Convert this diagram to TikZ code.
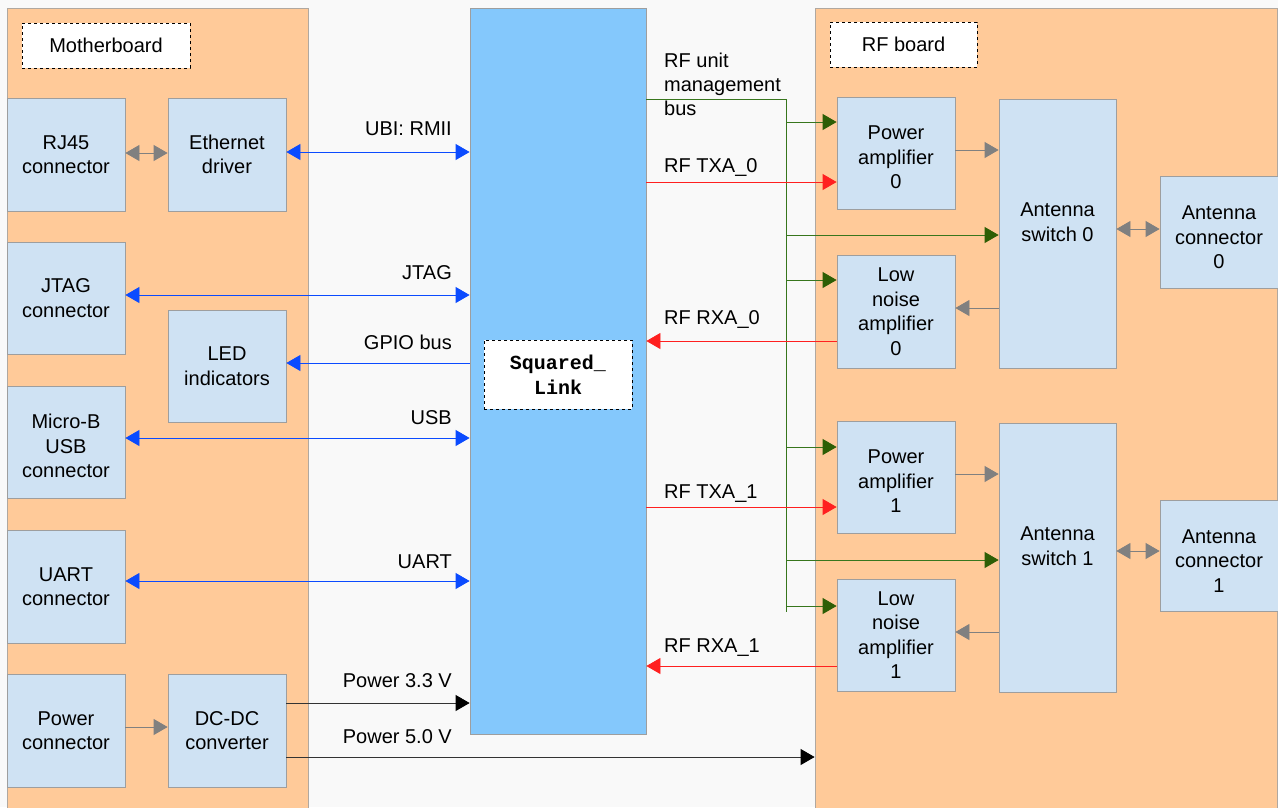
\documentclass[tikz,border=0pt]{standalone}
\usepackage{fontspec}
\setmainfont{Liberation Sans}
\setmonofont{Liberation Mono}
\usetikzlibrary{arrows.meta}
\definecolor{peach}{HTML}{FFCA99}
\definecolor{boxfill}{HTML}{CFE2F3}
\definecolor{boxline}{HTML}{9E9E9E}
\definecolor{core}{HTML}{84C8FC}
\definecolor{bg}{HTML}{F9F9F9}
\definecolor{bluel}{HTML}{0B4BFF}
\definecolor{greenl}{HTML}{38761D}
\definecolor{greenh}{HTML}{2E5E05}
\definecolor{redl}{HTML}{FF2020}
\definecolor{greyl}{HTML}{808080}
\definecolor{panelline}{HTML}{B0A8A0}
\tikzset{
  blk/.style={draw=boxline, fill=boxfill, line width=0.8pt, inner sep=0pt, align=center, font=\fontsize{20}{24.5}\selectfont},
  panel/.style={draw=panelline, fill=peach, line width=0.8pt, inner sep=0pt},
  tag/.style={draw=black, dashed, fill=white, line width=0.7pt, inner sep=0pt, align=center, font=\fontsize{20}{24.5}\selectfont},
  lbl/.style={inner sep=0pt, font=\fontsize{20}{24}\selectfont},
  tip/.style={-{Triangle[length=14pt,width=16pt]}},
  dtip/.style={{Triangle[length=14pt,width=16pt]}-{Triangle[length=14pt,width=16pt]}},
  bluearrow/.style={draw=bluel, line width=0.8pt, color=bluel},
  greyarrow/.style={draw=greyl, line width=0.8pt, color=greyl},
  redarrow/.style={draw=redl, line width=0.8pt, color=redl},
  greenline/.style={draw=greenl, line width=0.8pt},
  greenarrow/.style={draw=greenl, line width=0.8pt, -{Triangle[length=14pt,width=16pt,fill=greenh,color=greenh]}},
  blackarrow/.style={draw=black!80, line width=0.8pt, -{Triangle[length=14pt,width=16pt,fill=black,color=black]}},
}
\begin{document}
\begin{tikzpicture}[x=1pt,y=-1pt]
\useasboundingbox (0,0) rectangle (1278,807);
\fill[bg] (0,0) rectangle (1278,807);
\begin{scope}
\clip (0,0) rectangle (1278,807);
% panels
\node[panel, minimum width=301pt, minimum height=802pt] (mb) at (157.5,409) {};
\node[panel, minimum width=462pt, minimum height=802pt] (rfp) at (1046,409) {};
\node[draw=boxline, fill=core, line width=0.8pt, inner sep=0pt, minimum width=176pt, minimum height=726pt] (core) at (558,371) {};
\end{scope}
% panel labels
\node[tag, minimum width=168pt, minimum height=45pt] (mbl) at (106,45.5) {Motherboard};
\node[tag, minimum width=147pt, minimum height=45pt] (rfl) at (903.5,44.5) {RF board};
\node[tag, minimum width=148pt, minimum height=69pt, font=\fontsize{20}{25}\selectfont\ttfamily\bfseries] (sq) at (558,374.5) {Squared\_\\Link};
% motherboard blocks
\node[blk, minimum width=118pt, minimum height=113pt] (rj) at (66,154.5) {RJ45\\connector};
\node[blk, minimum width=118pt, minimum height=113pt] (eth) at (227,154.5) {Ethernet\\driver};
\node[blk, minimum width=118pt, minimum height=112pt] (jtag) at (66,298) {JTAG\\connector};
\node[blk, minimum width=118pt, minimum height=112pt] (led) at (227,366) {LED\\indicators};
\node[blk, minimum width=118pt, minimum height=112pt] (usb) at (66,442) {\mbox{}\\[-2pt]Micro-B\\USB\\connector};
\node[blk, minimum width=118pt, minimum height=113pt] (uart) at (66,586.5) {UART\\connector};
\node[blk, minimum width=118pt, minimum height=113pt] (pwr) at (66,730.5) {Power\\connector};
\node[blk, minimum width=118pt, minimum height=113pt] (dcdc) at (227,730.5) {DC-DC\\converter};
% RF blocks
\node[blk, minimum width=118pt, minimum height=112pt] (pa0) at (896,153) {\mbox{}\\[-2pt]Power\\amplifier\\0};
\node[blk, minimum width=118pt, minimum height=113pt] (lna0) at (896,311.5) {Low\\noise\\amplifier\\0};
\node[blk, minimum width=118pt, minimum height=112pt] (pa1) at (896,477) {\mbox{}\\[-2pt]Power\\amplifier\\1};
\node[blk, minimum width=118pt, minimum height=112pt] (lna1) at (896,635) {Low\\noise\\amplifier\\1};
\node[blk, minimum width=117pt, minimum height=269pt] (as0) at (1057.5,233.5) {Antenna\\switch 0\\[-2pt]\mbox{}};
\node[blk, minimum width=117pt, minimum height=269pt] (as1) at (1057.5,557.5) {Antenna\\switch 1\\[-2pt]\mbox{}};
\node[blk, minimum width=118pt, minimum height=112pt] (ac0) at (1219,232) {\mbox{}\\Antenna\\connector\\0};
\node[blk, minimum width=118pt, minimum height=111pt] (ac1) at (1219,555.5) {\mbox{}\\Antenna\\connector\\1};
% motherboard connectors
\draw[greyarrow, dtip] (rj.east |- 0,153) -- (eth.west |- 0,153);
\draw[bluearrow, dtip] (eth.east |- 0,152) -- (core.west |- 0,152);
\draw[bluearrow, dtip] (jtag.east |- 0,295) -- (core.west |- 0,295);
\draw[bluearrow, tip] (core.west |- 0,363) -- (led.east |- 0,363);
\draw[bluearrow, dtip] (usb.east |- 0,438) -- (core.west |- 0,438);
\draw[bluearrow, dtip] (uart.east |- 0,581) -- (core.west |- 0,581);
\draw[greyarrow, tip] (pwr.east |- 0,727) -- (dcdc.west |- 0,727);
\draw[blackarrow] (dcdc.east |- 0,703) -- (core.west |- 0,703);
\draw[blackarrow] (dcdc.east |- 0,757) -- (rfp.west |- 0,757);
% labels left
\node[lbl, anchor=base east] (l1) at (452,135) {UBI: RMII};
\node[lbl, anchor=base east] (l2) at (452,279) {JTAG};
\node[lbl, anchor=base east] (l3) at (452,349) {GPIO bus};
\node[lbl, anchor=base east] (l4) at (452,424) {USB};
\node[lbl, anchor=base east] (l5) at (452,568) {UART};
\node[lbl, anchor=base east] (l6) at (452,687) {Power 3.3 V};
\node[lbl, anchor=base east] (l7) at (452,743) {Power 5.0 V};
% management bus
\coordinate (bt) at (786,99);
\coordinate (bb) at (786,612);
\draw[greenline] (core.east |- bt) -- (bt) -- (bb);
\draw[greenarrow] (bt |- 0,122) -- (pa0.west |- 0,122);
\draw[greenarrow] (bt |- 0,235) -- (as0.west |- 0,235);
\draw[greenarrow] (bt |- 0,280) -- (lna0.west |- 0,280);
\draw[greenarrow] (bt |- 0,447) -- (pa1.west |- 0,447);
\draw[greenarrow] (bt |- 0,560) -- (as1.west |- 0,560);
\draw[greenarrow] (bt |- 0,606) -- (lna1.west |- 0,606);
% RF signals
\draw[redarrow, tip] (core.east |- 0,182) -- (pa0.west |- 0,182);
\draw[redarrow, tip] (lna0.west |- 0,341) -- (core.east |- 0,341);
\draw[redarrow, tip] (core.east |- 0,507) -- (pa1.west |- 0,507);
\draw[redarrow, tip] (lna1.west |- 0,666) -- (core.east |- 0,666);
% RF internal
\draw[greyarrow, tip] (pa0.east |- 0,150) -- (as0.west |- 0,150);
\draw[greyarrow, tip] (as0.west |- 0,308) -- (lna0.east |- 0,308);
\draw[greyarrow, dtip] (as0.east |- 0,229) -- (ac0.west |- 0,229);
\draw[greyarrow, tip] (pa1.east |- 0,474) -- (as1.west |- 0,474);
\draw[greyarrow, tip] (as1.west |- 0,632) -- (lna1.east |- 0,632);
\draw[greyarrow, dtip] (as1.east |- 0,551) -- (ac1.west |- 0,551);
% labels right
\node[lbl, anchor=base west, align=left] (r0) at (664,115) {RF unit\\management\\bus};
\node[lbl, anchor=base west] (r1) at (664,172) {RF TXA\_0};
\node[lbl, anchor=base west] (r2) at (664,324) {RF RXA\_0};
\node[lbl, anchor=base west] (r3) at (664,498) {RF TXA\_1};
\node[lbl, anchor=base west] (r4) at (664,652) {RF RXA\_1};
\end{tikzpicture}
\end{document}
